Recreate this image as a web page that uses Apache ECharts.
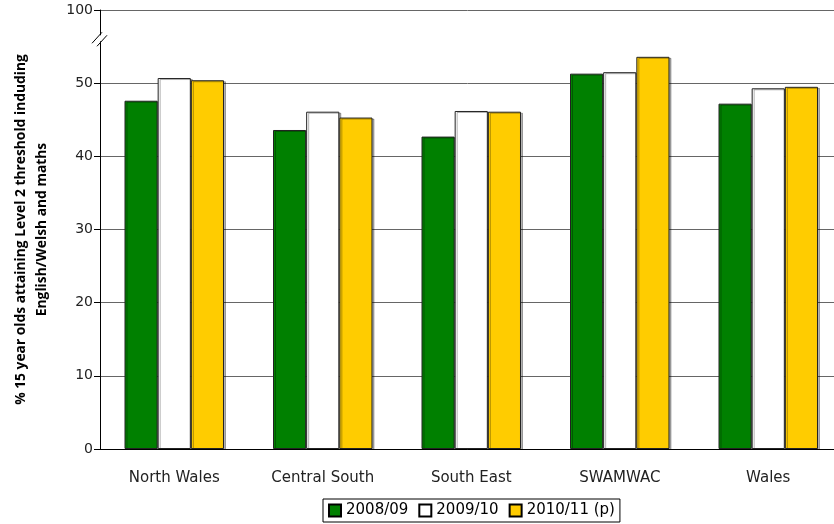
<!DOCTYPE html>
<html>
<head>
<meta charset="utf-8">
<script src="https://cdn.jsdelivr.net/npm/echarts@6/dist/echarts.min.js"></script>
<style>
  html, body { margin: 0; padding: 0; background: #fff; }
  #chart { width: 834px; height: 524px; }
</style>
</head>
<body>
<div id="chart"></div>
<script>
// regions on the x axis
var regions = ["North Wales", "Central South", "South East", "SWAMWAC", "Wales"];
// % attaining level 2 threshold, by year
var y2008 = [47.6, 43.6, 42.7, 51.3, 47.2];
var y2009 = [50.7, 46.1, 46.2, 51.5, 49.3];
var y2010 = [50.4, 45.3, 46.1, 53.6, 49.5];
// the axis is broken: the top tick (60) is shown as 100
var yTicks = [0, 10, 20, 30, 40, 50, 60];
var topLabel = "100";

var font = "DejaVu Sans";

function barSeries(name, data, color) {
  return {
    name: name,
    type: "bar",
    data: data,
    barGap: "0%",
    barCategoryGap: "33%",
    itemStyle: {
      color: color,
      borderColor: "#222",
      borderWidth: 1,
      shadowColor: "rgba(0,0,0,0.3)",
      shadowOffsetX: 2,
      shadowOffsetY: 1
    }
  };
}

var myChart = echarts.init(document.getElementById("chart"));
var option = {
  animation: false,
  backgroundColor: "#fff",
  grid: {
    left: 100, top: 10, width: 742.5, height: 439,
    containLabel: false,
    outerBoundsMode: "none"
  },
  legend: {
    data: ["2008/09", "2009/10", "2010/11 (p)"],
    left: 323,
    top: 499,
    padding: [4, 5],
    borderColor: "#000",
    borderWidth: 1,
    itemWidth: 12,
    itemHeight: 12,
    itemGap: 10,
    icon: "rect",
    itemStyle: { shadowColor: "transparent", borderColor: "#000" },
    textStyle: { fontFamily: font, fontSize: 15, color: "#000" }
  },
  xAxis: {
    type: "category",
    data: regions,
    axisLine: { lineStyle: { color: "#000", width: 1 } },
    axisTick: { length: 5, lineStyle: { color: "#555" } },
    axisLabel: { margin: 22, fontFamily: font, fontSize: 15, color: "#222" }
  },
  yAxis: {
    type: "value",
    min: yTicks[0],
    max: yTicks[yTicks.length - 1],
    interval: 10,
    name: "% 15 year olds attaining Level 2 threshold induding\nEnglish/Welsh and maths",
    nameLocation: "middle",
    nameRotate: 90,
    nameGap: 47,
    nameTextStyle: {
      fontFamily: "Open Sans",
      fontWeight: "bold",
      fontSize: 13.8,
      lineHeight: 21,
      color: "#000"
    },
    axisLine: { show: true, lineStyle: { color: "#000", width: 1 } },
    axisTick: { show: true, length: 6, lineStyle: { color: "#000" } },
    axisLabel: {
      margin: 7,
      fontFamily: font,
      fontSize: 14,
      color: "#222",
      formatter: function (v) {
        return v === yTicks[yTicks.length - 1] ? topLabel : String(v);
      }
    },
    splitLine: { lineStyle: { color: "#666", width: 1 } }
  },
  series: [
    barSeries("2008/09", y2008, "#008000"),
    barSeries("2009/10", y2009, "#ffffff"),
    barSeries("2010/11 (p)", y2010, "#ffcc00")
  ]
};
myChart.setOption(option);

// "//" break mark on the value axis
var p = myChart.convertToPixel({ gridIndex: 0 }, [0, 56]);
var bx = 100, by = p[1];
myChart.setOption({
  graphic: [
    { type: "rect", shape: { x: bx - 2, y: by - 4, width: 4, height: 6 }, style: { fill: "#fff" }, z: 100 },
    { type: "line", shape: { x1: bx - 8, y1: by + 4, x2: bx + 2, y2: by - 7 }, style: { stroke: "#000", lineWidth: 1 }, z: 101 },
    { type: "line", shape: { x1: bx - 3, y1: by + 7, x2: bx + 7, y2: by - 4 }, style: { stroke: "#000", lineWidth: 1 }, z: 101 }
  ]
});
</script>
</body>
</html>
